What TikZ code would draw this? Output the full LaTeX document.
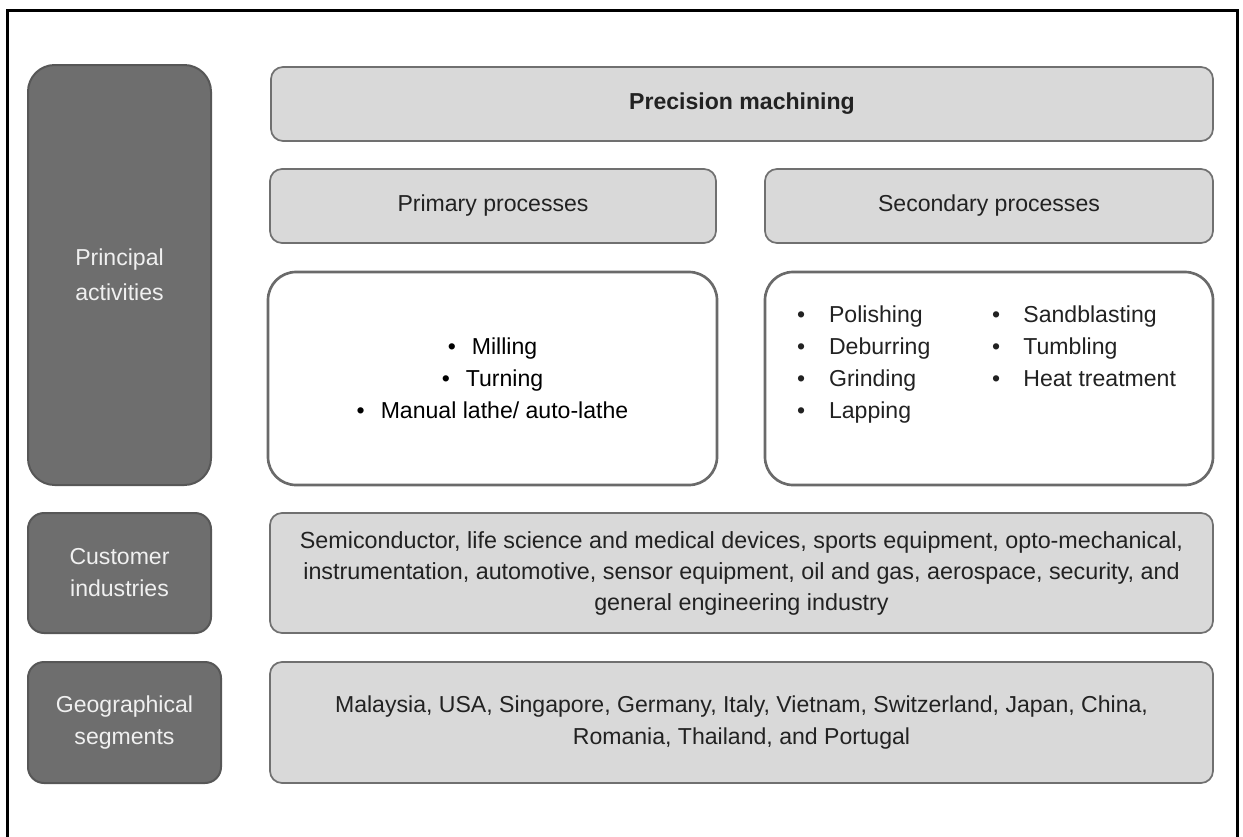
\documentclass[tikz,border=0pt]{standalone}
\usepackage{fontspec}
\setmainfont{Liberation Sans}
\definecolor{darkfill}{HTML}{6E6E6E}
\definecolor{darkline}{HTML}{575757}
\definecolor{lightfill}{HTML}{D9D9D9}
\definecolor{lightline}{HTML}{707070}
\definecolor{whiteline}{HTML}{6A6A6A}
\definecolor{txt}{HTML}{222222}
\begin{document}
\begin{tikzpicture}[x=0.75pt,y=-0.75pt,
  every node/.style={inner sep=0pt, outer sep=0pt, font=\fontsize{17.3}{24}\selectfont, text=txt},
  darkbox/.style={draw=darkline, fill=darkfill, line width=1.5pt, text=white!94!black, align=center, rounded corners=12pt},
  lightbox/.style={draw=lightline, fill=lightfill, line width=1.3pt, rounded corners=9pt, align=center},
  whitebox/.style={draw=whiteline, fill=white, line width=2pt, rounded corners=21pt},
  frameline/.style={draw=black, line width=2.25pt}
]
\useasboundingbox (0,0) rectangle (1243,836);
% outer frame (open at bottom)
\coordinate (f1) at (7,840);
\coordinate (f2) at (7,10);
\coordinate (f3) at (1237,10);
\coordinate (f4) at (1237,840);
\draw[frameline] (f1) -- (f2) -- (f3) -- (f4);

% left dark labels
\node[darkbox, rounded corners=20pt, minimum width=137.25pt, minimum height=315pt,
      font=\fontsize{17.3}{26}\selectfont] (pa) at (119.5,275) {Principal\\activities};
\node[darkbox, minimum width=137.25pt, minimum height=90pt] (ci) at (119.5,573) {Customer\\industries};
\node[darkbox, minimum width=144.75pt, minimum height=90.75pt] (gs) at (124.5,722.5) {Geographical\\segments};

% top boxes
\node[lightbox, minimum width=706.5pt, minimum height=55.5pt, font=\fontsize{17.3}{24}\selectfont\bfseries] (pm) at (742,104) {Precision machining};
\node[lightbox, minimum width=334.5pt, minimum height=55.5pt] (pp) at (493,206) {Primary processes};
\node[lightbox, minimum width=336pt, minimum height=55.5pt] (sp) at (989,206) {Secondary processes};

% white process boxes
\node[whitebox, minimum width=336.75pt, minimum height=159.75pt] (pw) at (492.5,378.5) {};
\node[whitebox, minimum width=336pt, minimum height=159.75pt] (sw) at (989,378.5) {};

\node[align=center, text=black] (plist) at (pw.center)
  {•\hspace{12pt}Milling\\•\hspace{12pt}Turning\\•\hspace{12pt}Manual lathe/ auto-lathe};

\node[anchor=base west] (slist1) at (797,322)
  {\begin{tabular}[t]{@{}l@{\hspace{18pt}}l@{}}•&Polishing\\•&Deburring\\•&Grinding\\•&Lapping\end{tabular}};
\node[anchor=base west] (slist2) at (992,322)
  {\begin{tabular}[t]{@{}l@{\hspace{17.5pt}}l@{}}•&Sandblasting\\•&Tumbling\\•&Heat treatment\end{tabular}};

% customer industries and geography
\node[lightbox, minimum width=707.25pt, minimum height=90pt, font=\fontsize{17.5}{23.25}\selectfont] (ct) at (741.5,573)
  {Semiconductor, life science and medical devices, sports equipment, opto-mechanical,\\
   instrumentation, automotive, sensor equipment, oil and gas, aerospace, security, and\\
   general engineering industry};
\node[lightbox, minimum width=707.25pt, minimum height=90.75pt, font=\fontsize{17.3}{24.5}\selectfont] (gt) at (741.5,722.5)
  {Malaysia, USA, Singapore, Germany, Italy, Vietnam, Switzerland, Japan, China,\\
   Romania, Thailand, and Portugal};
\end{tikzpicture}
\end{document}
